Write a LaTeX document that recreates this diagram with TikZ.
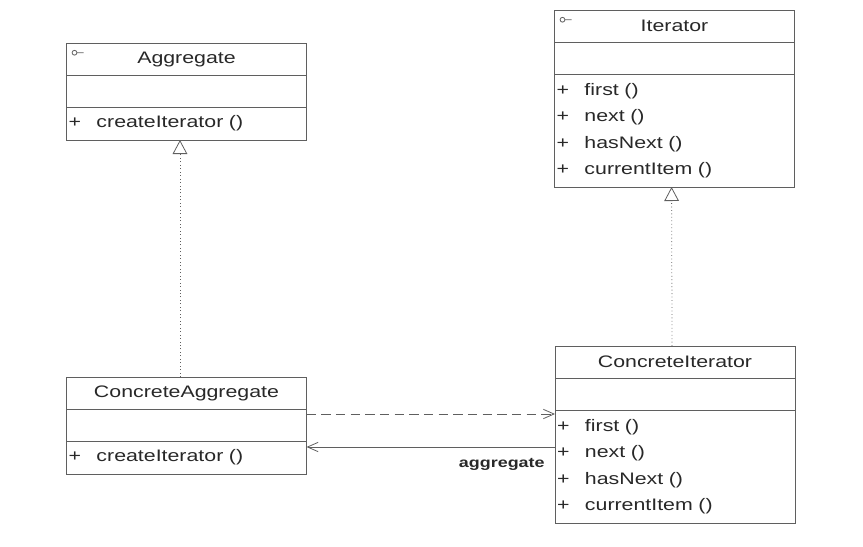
\documentclass[tikz,border=0pt]{standalone}
\usepackage{fontspec}
\setmainfont[FakeStretch=1.28]{Liberation Sans}
\usepackage{xcolor}
\usetikzlibrary{arrows.meta,positioning}

\definecolor{linegray}{RGB}{95,95,95}
\definecolor{textgray}{RGB}{40,40,40}
\newcommand{\umlop}[1]{\makebox[21pt][l]{+}#1}

\begin{document}
\begin{tikzpicture}[
        x=0.75pt, y=-0.75pt,
        part/.style={draw=linegray, line width=0.6pt, minimum width=180pt, minimum height=24pt,
            outer sep=0pt, inner sep=0pt, text=textgray, font=\fontsize{12.5}{14}\selectfont},
        methods/.style={part, align=left, text width=177pt, inner xsep=1.5pt,
            font=\fontsize{12.5}{19.9}\selectfont},
        realize/.style={draw=linegray, line width=0.6pt, dotted, -{Triangle[open,length=10.5pt,width=11pt]}},
        assoc/.style={draw=linegray, line width=0.6pt, ->},
        icon/.style={draw=linegray, line width=0.6pt},
        >={Straight Barb[length=8pt,width=7pt]}
    ]
        \useasboundingbox (0,0) rectangle (863,546);

        \node[part] (agg) at (186.5,59) {Aggregate};
        \node[part, below=0pt of agg] (agg-attr) {};
        \node[methods, minimum height=24.75pt, below=0pt of agg-attr] (agg-meth) {\umlop{createIterator ()}};

        \node[part] (it) at (674.5,26) {Iterator};
        \node[part, below=0pt of it] (it-attr) {};
        \node[methods, minimum height=84.75pt, below=0pt of it-attr] (it-meth)
            {\umlop{first ()}\\ \umlop{next ()}\\ \umlop{hasNext ()}\\ \umlop{currentItem ()}};

        \node[part] (ca) at (186.5,393) {ConcreteAggregate};
        \node[part, below=0pt of ca] (ca-attr) {};
        \node[methods, minimum height=24.75pt, below=0pt of ca-attr] (ca-meth) {\umlop{createIterator ()}};

        \node[part] (ci) at (675,362) {ConcreteIterator};
        \node[part, below=0pt of ci] (ci-attr) {};
        \node[methods, minimum height=84.75pt, below=0pt of ci-attr] (ci-meth)
            {\umlop{first ()}\\ \umlop{next ()}\\ \umlop{hasNext ()}\\ \umlop{currentItem ()}};

        \draw[icon] ([xshift=6pt,yshift=-7.3pt]agg.north west) circle (1.8pt) ++(1.8pt,0) -- ++(5pt,0);
        \draw[icon] ([xshift=6pt,yshift=-7.3pt]it.north west) circle (1.8pt) ++(1.8pt,0) -- ++(5pt,0);

        \draw[realize] ([xshift=-4.9pt]ca.north) -- ([xshift=-4.9pt]agg-meth.south);
        \draw[realize] ([xshift=-2.2pt]ci.north) -- ([xshift=-2.2pt]it-meth.south);

        \draw[assoc, dashed, dash pattern=on 7pt off 4pt] ([yshift=-3.75pt]ca-attr.north east) -- ([yshift=-3.75pt]ca-attr.north east -| ci-meth.west);
        \draw[assoc] ([yshift=-27.75pt]ci-meth.north west) --
            node[pos=0, anchor=north east, xshift=-7.5pt, yshift=-8pt, inner sep=0pt, text=textgray,
                font=\bfseries\fontsize{10.5}{12}\selectfont] (lbl) {aggregate}
            ([yshift=-27.75pt]ci-meth.north west -| ca-meth.east);
\end{tikzpicture}
\end{document}
